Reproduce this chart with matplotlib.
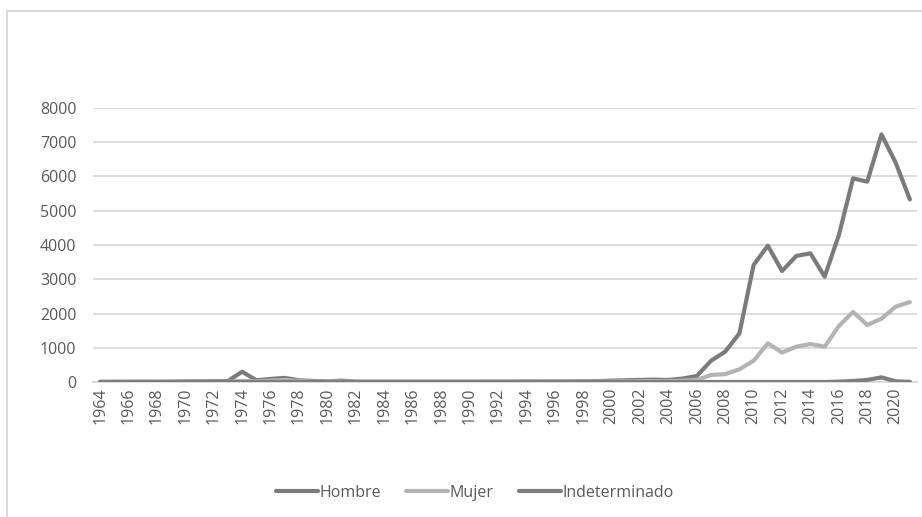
import numpy as np
import matplotlib.pyplot as plt
from matplotlib.patches import Rectangle

plt.rcParams['font.family'] = ['Open Sans', 'DejaVu Sans']

years = list(range(1964, 2022))

hombre = [5, 5, 8, 10, 8, 10, 15, 20, 25, 30,
          300, 50, 90, 120, 50, 30, 15, 40, 10, 8,
          8, 8, 8, 8, 8, 8, 8, 10, 10, 10,
          15, 12, 15, 15, 20, 25, 40, 50, 60, 70,
          60, 100, 175, 620, 885, 1420, 3415, 3980, 3240, 3680,
          3757, 3075, 4290, 5945, 5850, 7230, 6400, 5330]

mujer = [0, 0, 0, 2, 2, 3, 5, 8, 10, 10,
         30, 20, 40, 60, 30, 15, 10, 15, 5, 5,
         5, 5, 5, 5, 5, 5, 5, 5, 5, 5,
         8, 6, 8, 8, 10, 10, 15, 20, 25, 30,
         30, 40, 60, 205, 230, 370, 620, 1130, 860, 1030,
         1110, 1030, 1635, 2045, 1665, 1850, 2200, 2335]

indeterminado = [0] * 52 + [10, 30, 60, 135, 20, 5]

series = [
    ('Hombre', hombre, '#7b7b7b'),
    ('Mujer', mujer, '#b3b3b3'),
    ('Indeterminado', indeterminado, '#7d7d7d'),
]

fig = plt.figure(figsize=(9.22, 5.17), dpi=100)
ax = fig.add_axes([93 / 922, 135 / 517, 824 / 922, 274 / 517])

x = np.arange(len(years))
for name, vals, color in series:
    ax.plot(x, vals, color=color, lw=3.0, label=name, solid_capstyle='round',
            solid_joinstyle='round', zorder=3)

ax.set_xlim(-0.5, len(years) - 0.5)
ax.set_ylim(0, 8000)
ax.set_yticks(range(0, 8001, 1000))
ax.set_xticks(x[::2])
ax.set_xticklabels([str(y) for y in years[::2]], rotation=90)
ax.tick_params(length=0, labelsize=11.5, labelcolor='#595959')
ax.tick_params(axis='y', pad=12)
ax.tick_params(axis='x', pad=4)
ax.grid(axis='y', color='#d9d9d9', lw=1.3)
ax.set_axisbelow(True)
for side in ['top', 'right', 'left']:
    ax.spines[side].set_visible(False)
ax.spines['bottom'].set_color('#d9d9d9')
ax.spines['bottom'].set_linewidth(1.3)

leg = fig.legend(loc='center', bbox_to_anchor=(0.515, 24 / 517), ncol=3,
                 frameon=False, fontsize=11.5, handlelength=2.6,
                 handletextpad=0.1, columnspacing=1.6)
for t in leg.get_texts():
    t.set_color('#595959')

fig.patches.append(Rectangle((7 / 922, -0.1), 1.2, 1.1 - 11 / 517,
                             transform=fig.transFigure, fill=False,
                             edgecolor='#d9d9d9', lw=1.5))

fig.savefig('out.png', dpi=100)
